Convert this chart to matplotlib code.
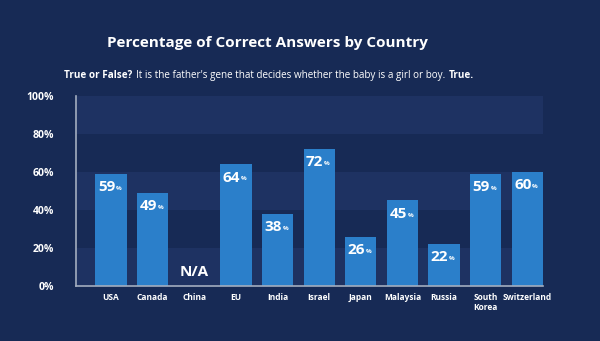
import matplotlib.pyplot as plt

countries = ["USA", "Canada", "China", "EU", "India", "Israel", "Japan",
             "Malaysia", "Russia", "South\nKorea", "Switzerland"]
correct_pct = [59, 49, None, 64, 38, 72, 26, 45, 22, 59, 60]
y_ticks = [0, 20, 40, 60, 80, 100]
na_label = "N/A"

bg = "#172a55"
band = "#1e3262"
bar_color = "#2b7fca"
axis_color = "#a3adbf"

plt.rcParams['font.family'] = ['Open Sans', 'DejaVu Sans']

fig = plt.figure(figsize=(6, 3.41), dpi=100, facecolor=bg)
ax = fig.add_axes([0.1267, 0.1613, 0.7783, 0.5572])
ax.set_facecolor(bg)

# alternating horizontal bands
for lo in y_ticks[::2]:
    ax.axhspan(lo, lo + 20, color=band, zorder=0, lw=0)

xs = list(range(len(countries)))
for x, v in zip(xs, correct_pct):
    if v is None:
        ax.text(x, 7.5, na_label, ha='center', va='center', color='white',
                fontsize=11, fontweight='bold')
        continue
    ax.bar(x, v, width=0.75, color=bar_color, zorder=2)
    ax.annotate(str(v), (x, v), xytext=(3, -9.5), textcoords='offset points',
                ha='right', va='center', color='white', fontsize=11,
                fontweight='bold', zorder=3)
    ax.annotate("%", (x, v), xytext=(3.5, -10.5), textcoords='offset points',
                ha='left', va='center', color='white', fontsize=4.5,
                fontweight='bold', zorder=3)

ax.set_xlim(-0.84, len(countries) - 1 + 0.375)
ax.set_ylim(0, 100)
ax.set_yticks(y_ticks)
ax.set_yticklabels([f"{t}%" for t in y_ticks])
ax.set_xticks(xs)
ax.set_xticklabels(countries, linespacing=1.1)
ax.tick_params(axis='y', length=0, pad=16, colors='white', labelsize=7.5)
ax.tick_params(axis='x', length=0, pad=5, colors='white', labelsize=6)
for lab in ax.get_xticklabels() + ax.get_yticklabels():
    lab.set_fontweight('bold')

for side in ['top', 'right']:
    ax.spines[side].set_visible(False)
for side in ['left', 'bottom']:
    ax.spines[side].set_color(axis_color)
    ax.spines[side].set_linewidth(1.2)

fig.text(0.445, 0.874, "Percentage of Correct Answers by Country",
         ha='center', va='center', color='white', fontsize=11, fontweight='bold')

t1 = fig.text(0.107, 0.778, "True or False?", ha='left', va='center',
              color='white', fontsize=7.1, fontweight='bold')
fig.canvas.draw()
r = fig.canvas.get_renderer()
bb = t1.get_window_extent(r)
t2 = fig.text(bb.x1 / fig.bbox.width + 0.006, 0.778,
              "It is the father's gene that decides whether the baby is a girl or boy.",
              ha='left', va='center', color='white', fontsize=7.1)
bb2 = t2.get_window_extent(r)
fig.text(bb2.x1 / fig.bbox.width + 0.006, 0.778, "True.", ha='left', va='center',
         color='white', fontsize=7.1, fontweight='bold')

fig.savefig("out.png", dpi=100, facecolor=bg)
